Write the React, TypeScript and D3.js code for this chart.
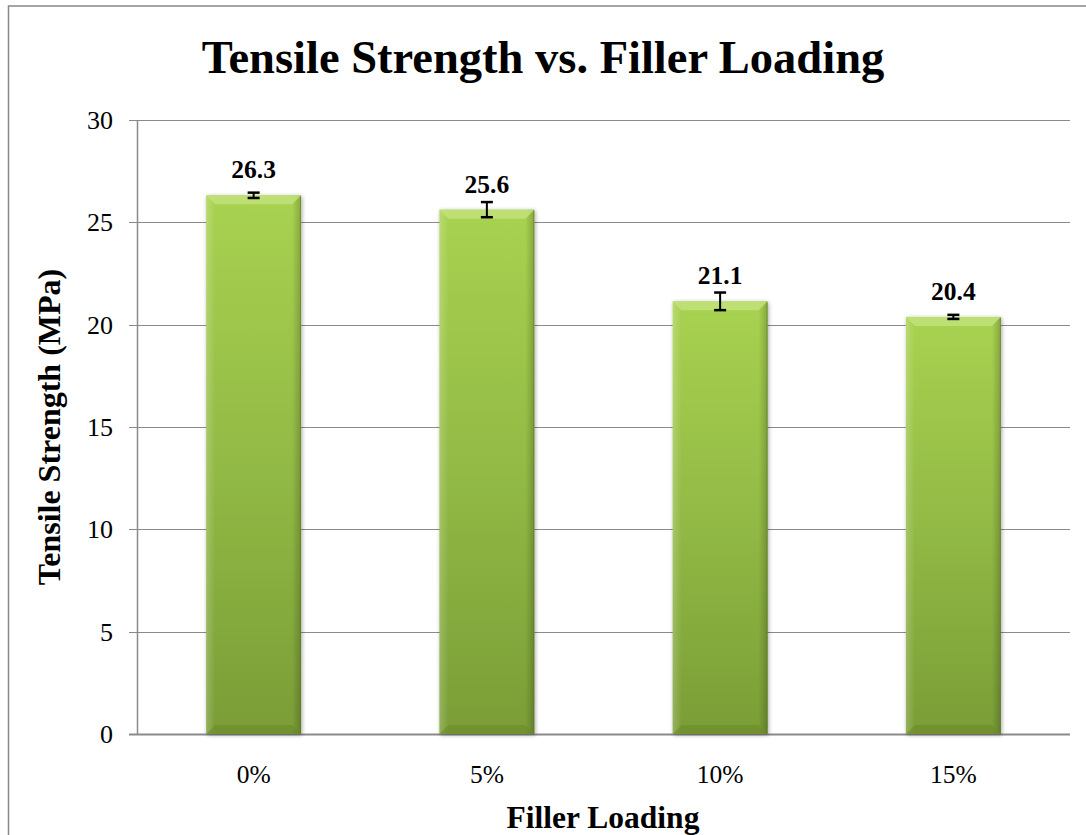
import React from "react";
import * as d3 from "d3";

const categories = ["0%", "5%", "10%", "15%"];
const values = [26.32, 25.62, 21.14, 20.38];
const errors = [0.13, 0.37, 0.43, 0.1];
const yTicks = [0, 5, 10, 15, 20, 25, 30];

const W = 1086;
const H = 835;
const left = 137;
const right = 1070;
const top = 120;
const bottom = 734;
const FONT = "'Liberation Serif', 'Times New Roman', serif";

export default function App() {
  const x = d3
    .scaleBand<string>()
    .domain(categories)
    .range([left, right])
    .paddingInner(0.593)
    .paddingOuter(0.2965);
  const y = d3.scaleLinear().domain([0, 30]).range([bottom, top]);
  const bw = x.bandwidth();
  const bev = 9;

  return (
    <svg
      width={W}
      height={H}
      style={{ position: "absolute", left: 0, top: 0, background: "#fff" }}
      fontFamily={FONT}
    >
      <defs>
        <linearGradient id="barG" x1="0" y1="0" x2="0" y2="1">
          <stop offset="0" stopColor="#a8d250" />
          <stop offset="0.5" stopColor="#92ba45" />
          <stop offset="1" stopColor="#7a9d36" />
        </linearGradient>
        <linearGradient id="sideL" x1="0" y1="0" x2="1" y2="0">
          <stop offset="0" stopColor="#ffffff" stopOpacity="0.2" />
          <stop offset="1" stopColor="#ffffff" stopOpacity="0" />
        </linearGradient>
        <linearGradient id="sideR" x1="0" y1="0" x2="1" y2="0">
          <stop offset="0" stopColor="#000000" stopOpacity="0" />
          <stop offset="1" stopColor="#000000" stopOpacity="0.2" />
        </linearGradient>
        <filter id="shadow" x="-10%" y="-10%" width="120%" height="120%">
          <feGaussianBlur in="SourceAlpha" stdDeviation="2" />
          <feOffset dx="1" dy="1" result="b" />
          <feComponentTransfer>
            <feFuncA type="linear" slope="0.35" />
          </feComponentTransfer>
          <feMerge>
            <feMergeNode />
            <feMergeNode in="SourceGraphic" />
          </feMerge>
        </filter>
      </defs>

      <rect x={8.5} y={6} width={W + 10} height={H + 10} fill="#fff" stroke="#888" strokeWidth={1.5} />

      <text x={543} y={73} textAnchor="middle" fontSize={46.5} fontWeight="bold" fill="#000">
        Tensile Strength vs. Filler Loading
      </text>

      {yTicks.map((t) => (
        <g key={t}>
          <line x1={129} x2={right} y1={Math.round(y(t)) + 0.5} y2={Math.round(y(t)) + 0.5} stroke="#8a8a8a" strokeWidth={1.2} />
          <text x={113} y={y(t) + 9} textAnchor="end" fontSize={26} fill="#000">
            {t}
          </text>
        </g>
      ))}
      <line x1={left + 0.5} x2={left + 0.5} y1={top} y2={bottom} stroke="#8a8a8a" strokeWidth={1.5} />
      <line x1={129} x2={right} y1={bottom + 0.5} y2={bottom + 0.5} stroke="#8a8a8a" strokeWidth={2} />

      {categories.map((c, i) => {
        const x0 = x(c)!;
        const x1 = x0 + bw;
        const yt = y(values[i]);
        const yb = y(0);
        const cx = x0 + bw / 2;
        return (
          <g key={c}>
            <g filter="url(#shadow)">
              <rect x={x0} y={yt} width={bw} height={yb - yt} fill="url(#barG)" />
            </g>
            <rect x={x0} y={yt} width={bev} height={yb - yt} fill="url(#sideL)" />
            <rect x={x1 - bev} y={yt} width={bev} height={yb - yt} fill="url(#sideR)" />
            <polygon
              points={`${x0},${yt} ${x1},${yt} ${x1 - bev},${yt + bev} ${x0 + bev},${yt + bev}`}
              fill="#c2e27a"
              opacity={0.85}
            />
            <polygon
              points={`${x0},${yb} ${x1},${yb} ${x1 - bev},${yb - bev} ${x0 + bev},${yb - bev}`}
              fill="#6a8b2c"
              opacity={0.6}
            />
            <line x1={x1 - 0.5} x2={x1 - 0.5} y1={yt + 1} y2={yb} stroke="#5d7a26" strokeWidth={1} opacity={0.6} />
            <line x1={cx} x2={cx} y1={y(values[i] + errors[i])} y2={y(values[i] - errors[i])} stroke="#000" strokeWidth={2} />
            <line x1={cx - 6} x2={cx + 6} y1={y(values[i] + errors[i])} y2={y(values[i] + errors[i])} stroke="#000" strokeWidth={2.5} />
            <line x1={cx - 6} x2={cx + 6} y1={y(values[i] - errors[i])} y2={y(values[i] - errors[i])} stroke="#000" strokeWidth={2.5} />
            <text x={cx} y={yt - 17} textAnchor="middle" fontSize={25.5} fontWeight="bold" fill="#000">
              {values[i].toFixed(1)}
            </text>
            <text x={cx} y={783} textAnchor="middle" fontSize={25.5} fill="#000">
              {c}
            </text>
          </g>
        );
      })}

      <text x={603} y={828} textAnchor="middle" fontSize={31.5} fontWeight="bold" fill="#000">
        Filler Loading
      </text>
      <text
        transform={`translate(60, ${(top + bottom) / 2}) rotate(-90)`}
        textAnchor="middle"
        fontSize={32}
        fontWeight="bold"
        fill="#000"
      >
        Tensile Strength (MPa)
      </text>
    </svg>
  );
}
